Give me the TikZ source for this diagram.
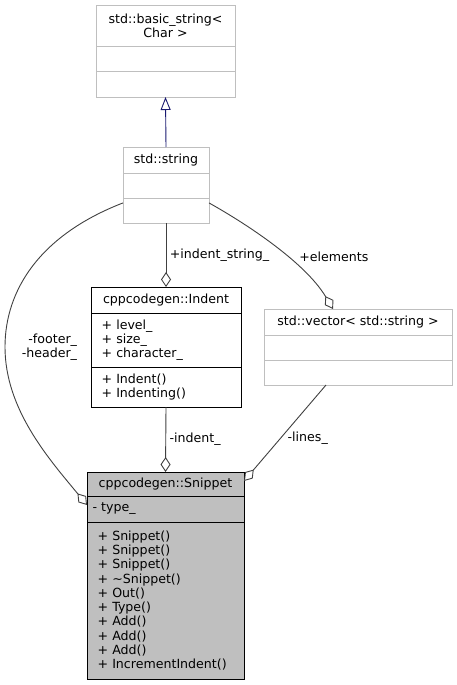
\documentclass[tikz,border=0pt]{standalone}
\usepackage{fontspec}
\setmainfont{DejaVu Sans}
\usetikzlibrary{
  positioning,
  calc,
  arrows.meta
}
\definecolor{boxgray}{HTML}{BFBFBF}
\definecolor{linegray}{HTML}{404040}
\definecolor{inhblue}{HTML}{191970}

\begin{document}
\begin{tikzpicture}[x=1pt, y=-1pt,
    every node/.style={font=\fontsize{12.6}{14.3}\selectfont},
    box/.style={draw=#1, line width=0.9pt, inner sep=0pt, outer sep=0pt, align=center},
    box/.default=boxgray,
    body/.style={align=left, inner xsep=10.5pt},
    edge/.style={draw=linegray, line width=0.9pt},
    has/.style={-{Diamond[open, length=15pt, width=10pt]}},
    isa/.style={draw=inhblue, line width=0.9pt, -{Triangle[open, length=13pt, width=10pt]}}]
    \useasboundingbox (0,0) rectangle (457,685);

    % std::basic_string< Char >
    \node[box, minimum width=139pt, minimum height=41pt] (base) at (165.5,25.5) {std::basic\_string<\\Char >};
    \node[box, minimum width=139pt, minimum height=25pt, below=0pt of base] (base-a) {};
    \node[box, minimum width=139pt, minimum height=26pt, below=0pt of base-a] (base-m) {};

    % std::string
    \node[box, minimum width=86pt, minimum height=26pt] (str) at (166,160) {std::string};
    \node[box, minimum width=86pt, minimum height=25pt, below=0pt of str] (str-a) {};
    \node[box, minimum width=86pt, minimum height=25pt, below=0pt of str-a] (str-m) {};

    % cppcodegen::Indent
    \node[box=black, minimum width=150pt, minimum height=26pt] (ind) at (166,300) {cppcodegen::Indent};
    \node[box=black, body, text width=129pt, minimum height=54pt, below=0pt of ind] (ind-a)
      {+ level\_\\+ size\_\\+ character\_};
    \node[box=black, body, text width=129pt, minimum height=40pt, below=0pt of ind-a] (ind-m)
      {+ Indent()\\+ Indenting()};

    % std::vector< std::string >
    \node[box, minimum width=188pt, minimum height=26pt] (vec) at (358,322) {std::vector< std::string >};
    \node[box, minimum width=188pt, minimum height=25pt, below=0pt of vec] (vec-a) {};
    \node[box, minimum width=188pt, minimum height=25pt, below=0pt of vec-a] (vec-m) {};

    % cppcodegen::Snippet
    \node[box=black, fill=boxgray, minimum width=157pt, minimum height=24pt] (snip) at (165.5,484) {cppcodegen::Snippet};
    \node[box=black, fill=boxgray, body, inner xsep=5.5pt, text width=146pt, minimum height=26pt,
      below=0pt of snip] (snip-a) {- type\_};
    \node[box=black, fill=boxgray, body, text width=136pt, minimum height=157pt, below=0pt of snip-a] (snip-m)
      {+ Snippet()\\+ Snippet()\\+ Snippet()\\+ \textasciitilde Snippet()\\+ Out()\\+ Type()\\+ Add()\\+ Add()\\+ Add()\\+ IncrementIndent()};

    \draw[isa] (str.north) -- (base-m.south);
    \draw[edge, has] (str-m.south) -- node[right] {+indent\_string\_} (ind.north);
    \draw[edge, has] (str-m.10) .. controls (245,223) and (305,262) .. ($(vec.north)+(-25,0)$)
      node[pos=0.6, right=8pt] {+elements};
    \draw[edge, has] (str-m.170) .. controls (40,235) and (5,290) .. (5,347)
      node[right=13pt, align=right] {-footer\_\\-header\_}
      .. controls (5,410) and (50,460) .. ($(snip-a.west)+(0,-4)$);
    \draw[edge, has] (ind-m.south) -- node[right] {-indent\_} (snip.north);
    \draw[edge, has] ($(vec-m.south)+(-32,0)$) -- node[pos=0.55, right, xshift=3pt] {-lines\_} ($(snip.east)+(0,-3)$);
\end{tikzpicture}
\end{document}
